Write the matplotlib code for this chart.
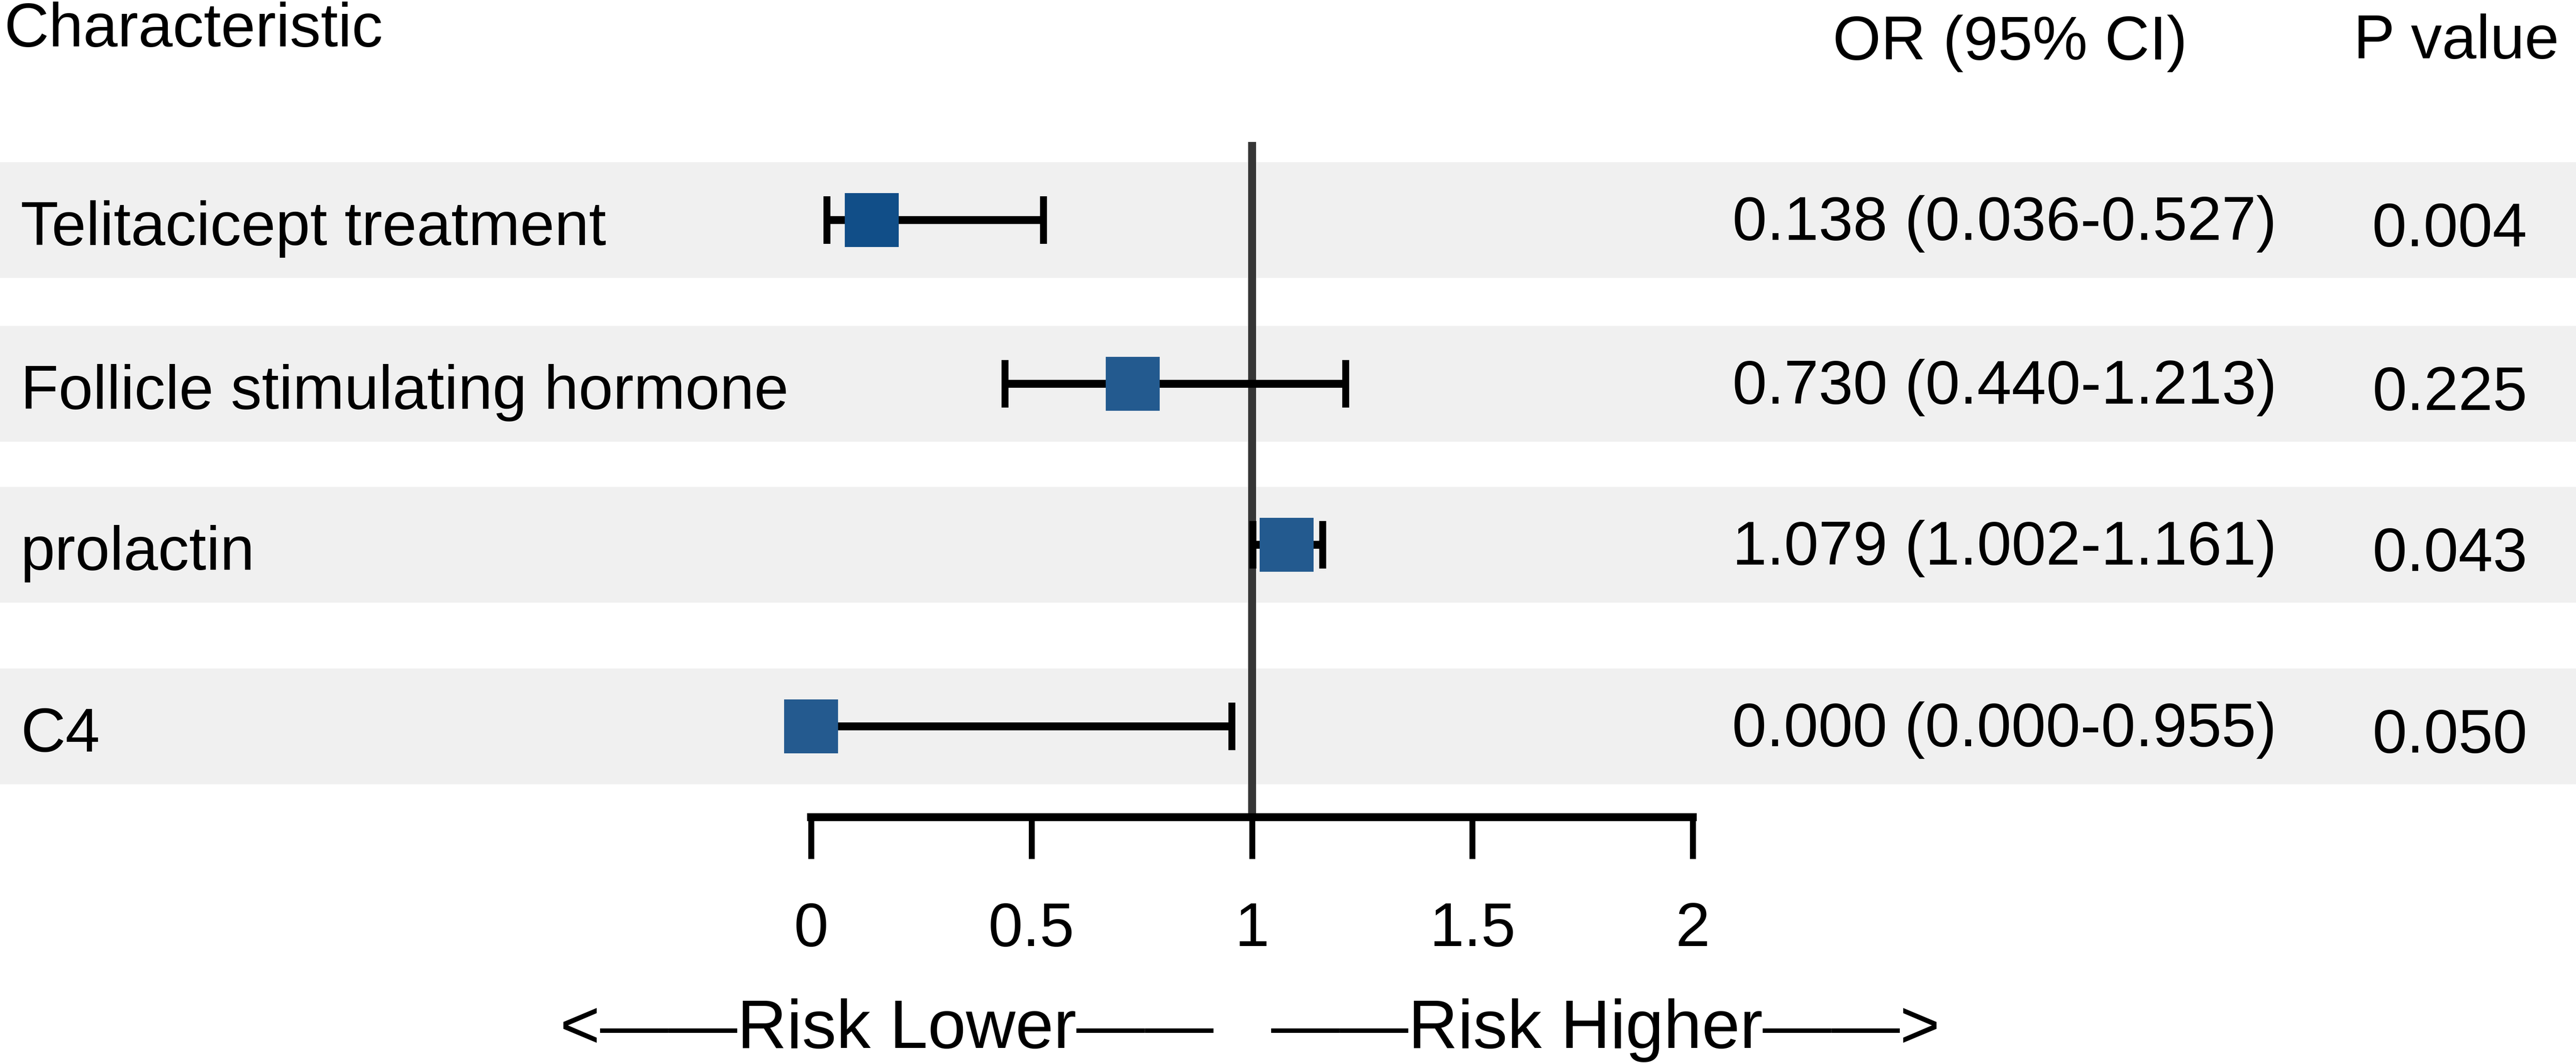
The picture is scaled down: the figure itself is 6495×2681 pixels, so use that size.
import matplotlib.pyplot as plt

plt.rcParams['font.family'] = ['Liberation Sans', 'DejaVu Sans']

# data
labels = ["Telitacicept treatment", "Follicle stimulating hormone", "prolactin", "C4"]
or_vals = [0.138, 0.730, 1.079, 0.000]
ci_low = [0.036, 0.440, 1.002, 0.000]
ci_high = [0.527, 1.213, 1.161, 0.955]
p_vals = ["0.004", "0.225", "0.043", "0.050"]
xticks = [0, 0.5, 1, 1.5, 2]
xticklabels = ["0", "0.5", "1", "1.5", "2"]

# layout in output pixels (6495 x 2681)
W, H = 6495, 2681
row_y = [555, 968, 1374, 1832]
band_half = 146
axis_y = 2061
fs = 37.5

fig = plt.figure(figsize=(W / 300, H / 300), dpi=300)

# background layer: row bands + table text
bg = fig.add_axes([0, 0, 1, 1])
bg.set_xlim(0, W)
bg.set_ylim(H, 0)
bg.axis('off')
for y in row_y:
    bg.axhspan(y - band_half, y + band_half, color='#f0f0f0', lw=0, zorder=0)

bg.text(10, 117, "Characteristic", fontsize=fs, ha='left', va='baseline')
bg.text(5068, 150, "OR (95% CI)", fontsize=fs, ha='center', va='baseline')
bg.text(6193, 147, "P value", fontsize=fs, ha='center', va='baseline')

for i, y in enumerate(row_y):
    bg.text(52, y + 63, labels[i], fontsize=fs, ha='left', va='baseline')
    txt = f"{or_vals[i]:.3f} ({ci_low[i]:.3f}-{ci_high[i]:.3f})"
    bg.text(5054, y + 50, txt, fontsize=fs, ha='center', va='baseline')
    bg.text(6177, y + 66, p_vals[i], fontsize=fs, ha='center', va='baseline')

bg.text(3060, 2643, "<\u2014\u2014Risk Lower\u2014\u2014", fontsize=41.5,
        ha='right', va='baseline')
bg.text(3205, 2643, "\u2014\u2014Risk Higher\u2014\u2014>", fontsize=41.5,
        ha='left', va='baseline')

# forest panel
x0, x1 = 2045, 4268
ax = fig.add_axes([x0 / W, 0, (x1 - x0) / W, 1])
ax.set_facecolor('none')
ax.set_xlim(0, 2)
ax.set_ylim(H, 0)

ax.vlines(1, 358, axis_y, color='#363636', lw=4.8, zorder=1)

err_lo = [o - l for o, l in zip(or_vals, ci_low)]
err_hi = [h - o for o, h in zip(or_vals, ci_high)]
ax.errorbar(or_vals, row_y, xerr=[err_lo, err_hi], fmt='none', ecolor='black',
            elinewidth=4.8, capsize=14.4, capthick=4.2, zorder=2, clip_on=False)

box_colors = ['#114e88', '#235a8f', '#235a8f', '#245a8f']
for i, y in enumerate(row_y):
    ax.plot(or_vals[i], y, marker='s', ms=32.6, color=box_colors[i],
            mec='none', zorder=3, clip_on=False)

for s in ['top', 'left', 'right']:
    ax.spines[s].set_visible(False)
ax.spines['bottom'].set_position(('data', axis_y))
ax.spines['bottom'].set_linewidth(4.8)
ax.spines['bottom'].set_bounds(0, 2)
ax.set_yticks([])
ax.set_xticks(xticks)
ax.set_xticklabels(xticklabels, fontsize=fs)
ax.tick_params(axis='x', direction='out', length=25.2, width=3.6, pad=25.7)

fig.savefig("out.png", dpi=300)
